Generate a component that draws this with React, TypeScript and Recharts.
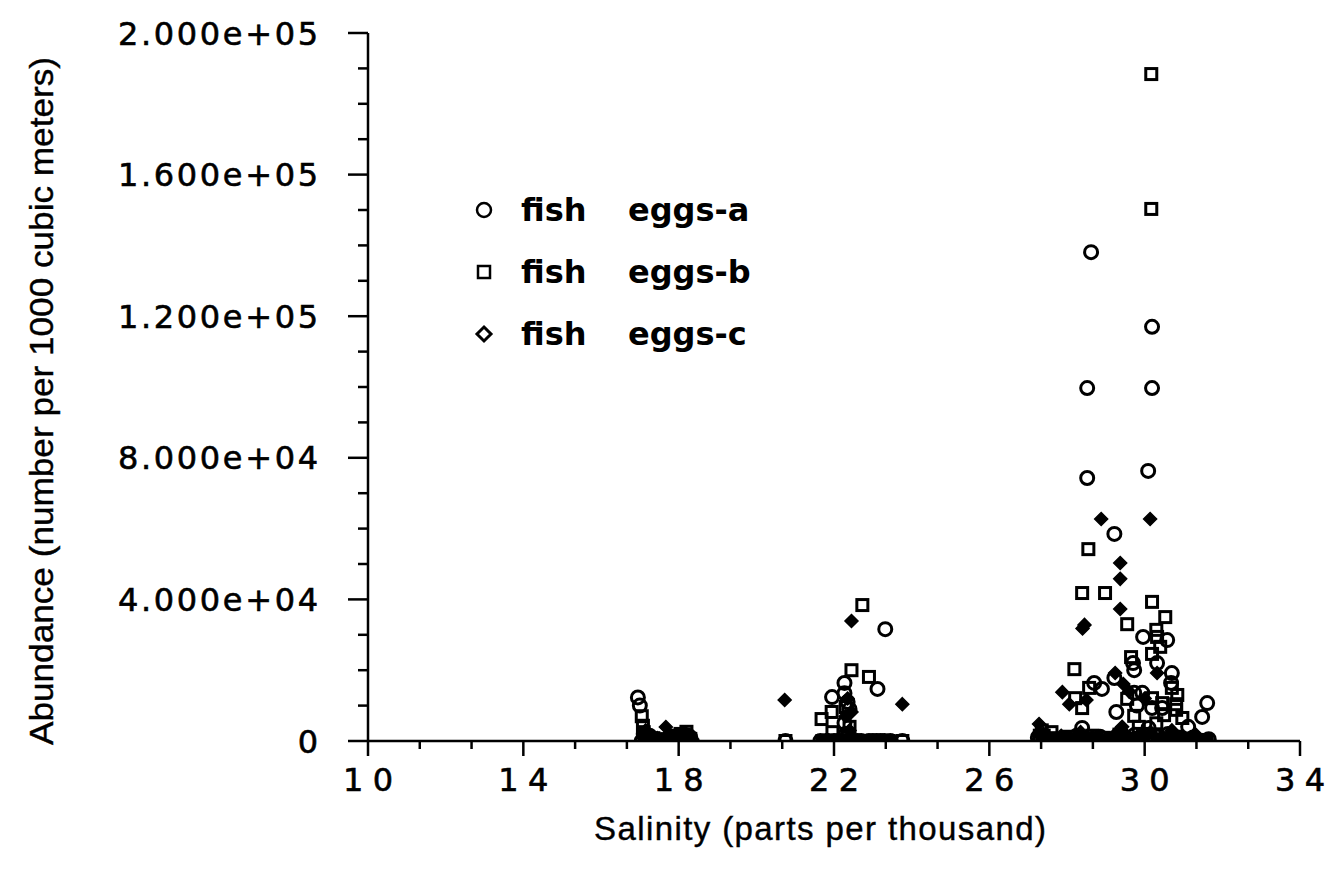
import React from 'react';
import { ScatterChart, Scatter, XAxis, YAxis, Legend, Label } from 'recharts';

// ---------- data (salinity in ppt, abundance per 1000 m^3) ----------
const salinityA = [
  16.95, 17.0, 17.1, 17.2, 17.35, 17.6, 17.9, 18.05, 18.2, 18.3, 17.05, 17.45,
  20.75, 21.95, 22.27, 22.27, 22.27, 23.32, 23.12, 22.35, 22.4, 23.76, 22.0, 22.5, 22.9, 23.2, 21.8, 22.3,
  28.62, 30.19, 28.52, 30.19, 28.52, 30.09, 29.22, 29.96, 30.58, 29.7, 29.73, 30.32, 30.7, 30.68,
  29.22, 28.7, 28.9, 29.73, 29.94, 31.61, 31.48, 29.27, 30.19, 30.45, 31.12, 28.39, 30.1, 29.8, 30.6,
  27.3, 27.5, 27.8, 28.1, 28.4, 28.7, 29.0, 29.3, 29.6, 29.9, 30.2, 30.5, 30.8, 31.1, 31.4, 31.65,
];
const abundanceA = [
  12300, 10000, 2000, 600, 300, 0, 900, 1800, 600, 1000, 0, 100,
  0, 12400, 16400, 13500, 5100, 31600, 14700, 11000, 9000, 0, 0, 0, 0, 0, 0, 2000,
  138100, 117000, 99700, 99700, 74300, 76300, 58500, 29400, 28500, 22000, 20000, 22000, 19200, 16400,
  17800, 16400, 14700, 13600, 13600, 10700, 6800, 8200, 9300, 9300, 4000, 3700, 3700, 10000, 2000,
  0, 0, 0, 0, 0, 0, 0, 0, 0, 0, 0, 0, 0, 0, 0, 500,
];
// low-abundance samples that form the dense band along the axis
const baseSalinityA = [
  17.15, 17.25, 17.4, 17.7, 17.8, 18.0, 18.15, 18.25,
  21.65, 21.85, 22.1, 22.2, 22.6, 22.7, 23.0, 23.1, 23.3, 23.45,
  27.25, 27.4, 27.65, 27.95, 28.25, 28.55, 28.85, 29.15, 29.45, 29.75, 30.05, 30.35, 30.65, 30.95, 31.25, 31.55,
];
const baseAbundanceA = [
  800, 1500, 200, 600, 1200, 300, 900, 1500,
  0, 0, 0, 0, 0, 0, 0, 0, 0, 0,
  1000, 500, 0, 800, 1500, 600, 1200, 0, 900, 1800, 600, 1400, 800, 500, 1000, 0,
];

const salinityB = [
  17.05, 17.08, 17.1, 17.2, 17.5, 18.0, 18.2, 17.3, 17.8, 18.1,
  22.73, 22.45, 22.9, 21.68, 21.94, 21.96, 22.3, 22.4, 23.76, 20.75, 21.7, 22.2, 22.6, 23.0, 23.4, 22.35,
  30.17, 30.17, 28.55, 28.39, 28.98, 30.19, 30.53, 29.55, 30.3, 30.32, 30.4, 30.19, 29.65, 30.7,
  28.19, 28.57, 28.21, 28.39, 29.55, 30.19, 30.45, 30.84, 30.81, 29.73, 30.5, 30.81, 30.97,
  27.6, 27.35, 27.4, 29.85, 30.3,
  27.45, 27.9, 28.3, 28.8, 29.2, 29.5, 29.8, 30.1, 30.4, 30.7, 31.0, 31.3, 31.6,
];
const abundanceB = [
  7000, 4300, 2500, 800, 300, 1500, 2600, 0, 0, 0,
  38400, 20000, 18100, 6200, 8200, 2500, 9600, 4000, 0, 0, 0, 0, 0, 0, 0, 1200,
  188400, 150300, 54200, 41800, 41800, 39300, 35000, 33000, 31400, 29400, 26600, 24600, 23700, 15000,
  20300, 15000, 12100, 9300, 11900, 12100, 10700, 13000, 10400, 7100, 7300, 8800, 6500,
  2500, 3000, 1500, 4000, 5000,
  0, 0, 0, 0, 0, 0, 0, 0, 0, 0, 0, 0, 0,
];
const baseSalinityB = [
  17.12, 17.35, 17.6, 17.9, 18.05, 18.3,
  21.75, 21.9, 22.05, 22.5, 22.8, 23.2, 23.35,
  27.3, 27.55, 27.75, 28.05, 28.45, 28.65, 28.95, 29.35, 29.65, 29.95, 30.25, 30.55, 30.85, 31.15, 31.45,
  28.0, 28.35, 28.75, 29.1, 29.45, 29.9, 30.35, 30.75, 31.05,
];
const baseAbundanceB = [
  1200, 800, 500, 1000, 2000, 600,
  0, 0, 0, 0, 0, 0, 0,
  1500, 800, 0, 1200, 600, 1500, 900, 1800, 700, 2000, 1500, 800, 1200, 600, 300,
  300, 200, 400, 100, 300, 200, 400, 100, 300,
];

const salinityC = [
  17.15, 17.67, 17.3, 17.5, 18.0, 18.2, 17.1, 17.8, 18.3, 17.2,
  20.73, 22.45, 23.76, 22.45, 22.35, 22.3, 22.4, 21.8, 22.1, 22.7, 23.1, 23.5,
  28.88, 30.14, 29.37, 29.37, 29.37, 28.45, 28.4, 30.32, 29.24, 29.45, 27.88, 28.06, 28.5, 29.42,
  27.28, 30.0, 29.6, 30.7, 31.3, 27.35,
  27.6, 28.0, 28.5, 28.9, 29.4, 29.7, 30.0, 30.35, 30.6, 30.9, 31.2, 31.5,
];
const abundanceC = [
  3000, 3950, 1000, 300, 600, 1200, 0, 200, 0, 1800,
  11600, 33900, 10400, 8200, 12000, 7000, 3000, 0, 0, 0, 0, 0,
  62700, 62700, 50300, 45800, 37300, 32800, 31800, 19200, 19200, 16100, 13800, 10400, 11600, 4000,
  4800, 12000, 14000, 3000, 2000, 1500,
  0, 0, 0, 0, 0, 0, 0, 0, 0, 0, 0, 0,
];
const baseSalinityC = [
  17.18, 17.28, 17.45, 17.55, 17.75, 17.95, 18.1, 18.35,
  21.7, 21.95, 22.25, 22.55, 22.85, 23.25, 23.4,
  27.4, 27.5, 27.7, 27.85, 28.2, 28.35, 28.65, 29.05, 29.25, 29.55, 29.85, 30.15, 30.45, 30.75, 31.05, 31.4, 31.6,
];
const baseAbundanceC = [
  2000, 1200, 800, 400, 1000, 1500, 2200, 500,
  0, 0, 0, 0, 0, 0, 0,
  2000, 1000, 500, 1500, 800, 2500, 1200, 600, 2000, 1500, 900, 2500, 1200, 2000, 800, 500, 0,
];

const seriesNames = ['fish', 'eggs-a', 'eggs-b', 'eggs-c'];

// ---------- axis ticks ----------
const xMajorTicks = [10, 14, 18, 22, 26, 30, 34];
const xMinorOffsets = [4 / 3, 8 / 3];
const xTicks: number[] = [];
xMajorTicks.forEach((m, i) => {
  xTicks.push(m);
  if (i < xMajorTicks.length - 1) xMinorOffsets.forEach((o) => xTicks.push(m + o));
});

const yMajorTicks = [0, 40000, 80000, 120000, 160000, 200000];
const yTickLabels = ['0', '4.000e+04', '8.000e+04', '1.200e+05', '1.600e+05', '2.000e+05'];
const yTicks = [
  0, 10000, 20000, 30000, 40000, 50000, 60000, 70000, 80000, 90000, 100000,
  110000, 120000, 130000, 140000, 150000, 160000, 170000, 180000, 190000, 200000,
];

const toPoints = (s: number[], v: number[]) => s.map((x, i) => ({ s: x, v: v[i] }));
const dataA = toPoints(salinityA, abundanceA).concat(toPoints(baseSalinityA, baseAbundanceA));
const dataB = toPoints(salinityB, abundanceB).concat(toPoints(baseSalinityB, baseAbundanceB));
const dataC = toPoints(salinityC, abundanceC).concat(toPoints(baseSalinityC, baseAbundanceC));

// ---------- layout constants ----------
const SHIFT = 40; // chart drawn 40px higher so the cut-off title sits above the page
const W = 1328;
const H = 874 + SHIFT;
const FONT = '"Liberation Sans", Arial, Helvetica, sans-serif';
const WIDE = '"DejaVu Sans", Verdana, sans-serif';

const CircleShape = (p: any) => (
  <circle cx={p.cx} cy={p.cy} r={6.5} fill="none" stroke="#000" strokeWidth={3} />
);
const SquareShape = (p: any) => (
  <rect x={p.cx - 5.5} y={p.cy - 5.5} width={11} height={11} fill="none" stroke="#000" strokeWidth={3} />
);
const DiamondShape = (p: any) => (
  <polygon
    points={`${p.cx},${p.cy - 6.5} ${p.cx + 6.5},${p.cy} ${p.cx},${p.cy + 6.5} ${p.cx - 6.5},${p.cy}`}
    fill="#000"
    stroke="#000"
    strokeWidth={1.5}
  />
);

const YTick = (props: any) => {
  const { x, y, payload } = props;
  const idx = yMajorTicks.indexOf(payload.value);
  const major = idx >= 0;
  const label = major ? yTickLabels[idx] : '';
  return (
    <g>
      <line x1={x - (major ? 20 : 10)} x2={x} y1={y} y2={y} stroke="#000" strokeWidth={2.5} />
      {major && (
        <text
          x={318}
          y={y + 11.5}
          textAnchor="end"
          fontFamily={WIDE}
          fontSize={32}
          fill="#000"
          stroke="#000"
          strokeWidth={0.6}
          {...(label.length > 1 ? { textLength: 200, lengthAdjust: 'spacing' } : {})}
        >
          {label}
        </text>
      )}
    </g>
  );
};

const XTick = (props: any) => {
  const { x, y, payload } = props;
  const major = xMajorTicks.some((m) => Math.abs(m - payload.value) < 1e-6);
  return (
    <g>
      <line x1={x} x2={x} y1={y} y2={y + (major ? 15 : 8)} stroke="#000" strokeWidth={2.5} />
      {major && (
        <text
          x={x}
          y={y + 50}
          textAnchor="middle"
          fontFamily={WIDE}
          fontSize={32}
          fill="#000"
          stroke="#000"
          strokeWidth={0.6}
          textLength={50}
          lengthAdjust="spacing"
        >
          {String(payload.value)}
        </text>
      )}
    </g>
  );
};

const legendRows = [
  { shape: 'circle', label: seriesNames[1] },
  { shape: 'square', label: seriesNames[2] },
  { shape: 'diamond', label: seriesNames[3] },
];

const LegendContent = () => (
  <svg width={320} height={180} style={{ display: 'block' }}>
    {legendRows.map((r, i) => {
      const cy = 30 + i * 62;
      const cx = 24;
      return (
        <g key={r.label}>
          {r.shape === 'circle' && (
            <circle cx={cx} cy={cy} r={7} fill="none" stroke="#000" strokeWidth={2.5} />
          )}
          {r.shape === 'square' && (
            <rect x={cx - 6} y={cy - 6} width={12} height={12} fill="none" stroke="#000" strokeWidth={2.5} />
          )}
          {r.shape === 'diamond' && (
            <polygon
              points={`${cx},${cy - 7} ${cx + 7},${cy} ${cx},${cy + 7} ${cx - 7},${cy}`}
              fill="#fff"
              stroke="#000"
              strokeWidth={3}
            />
          )}
          <text x={61} y={cy + 11} fontFamily={WIDE} fontWeight="bold" fontSize={32} fill="#000">
            {seriesNames[0]}
          </text>
          <text x={168} y={cy + 11} fontFamily={WIDE} fontWeight="bold" fontSize={32} fill="#000">
            {r.label}
          </text>
        </g>
      );
    })}
  </svg>
);

export default function App() {
  return (
    <div style={{ position: 'absolute', left: 0, top: -SHIFT, width: W, height: H, background: '#fff' }}>
      <svg width={W} height={SHIFT} style={{ position: 'absolute', left: 0, top: 0 }}>
        <text x={517} y={SHIFT - 3.5} fontFamily={FONT} fontWeight="bold" fontSize={32} fill="#000">
          Salinity vs. fish eggs
        </text>
      </svg>
      <ScatterChart
        width={W}
        height={H}
        margin={{ top: 33 + SHIFT, right: 28, bottom: 0, left: 0 }}
        style={{ background: 'transparent' }}
      >
        <XAxis
          type="number"
          dataKey="s"
          domain={[10, 34]}
          ticks={xTicks}
          interval={0}
          height={133}
          tickSize={0}
          tickMargin={0}
          tickLine={false}
          axisLine={{ stroke: '#000', strokeWidth: 2.5 }}
          tick={<XTick />}
          allowDataOverflow
        >
          <Label
            content={() => (
              <text
                x={594}
                y={840 + SHIFT}
                fontFamily={FONT}
                fontSize={33}
                fill="#000"
                stroke="#000"
                strokeWidth={0.4}
                textLength={452}
                lengthAdjust="spacing"
              >
                Salinity (parts per thousand)
              </text>
            )}
          />
        </XAxis>
        <YAxis
          type="number"
          dataKey="v"
          domain={[0, 200000]}
          ticks={yTicks}
          interval={0}
          width={368}
          tickSize={0}
          tickMargin={0}
          tickLine={false}
          axisLine={{ stroke: '#000', strokeWidth: 2.5 }}
          tick={<YTick />}
          allowDataOverflow
        >
          <Label
            content={() => (
              <text
                x={53}
                y={401 + SHIFT}
                transform={`rotate(-90 53 ${401 + SHIFT})`}
                textAnchor="middle"
                fontFamily={FONT}
                fontSize={34}
                fill="#000"
                stroke="#000"
                strokeWidth={0.4}
                textLength={688}
                lengthAdjust="spacingAndGlyphs"
              >
                Abundance (number per 1000 cubic meters)
              </text>
            )}
          />
        </YAxis>
        <Legend
          layout="vertical"
          align="center"
          verticalAlign="middle"
          content={<LegendContent />}
          wrapperStyle={{ position: 'absolute', left: 460, top: 180 + SHIFT, width: 320, height: 180 }}
        />
        <Scatter name="fish eggs-a" data={dataA} shape={CircleShape} isAnimationActive={false} />
        <Scatter name="fish eggs-b" data={dataB} shape={SquareShape} isAnimationActive={false} />
        <Scatter name="fish eggs-c" data={dataC} shape={DiamondShape} isAnimationActive={false} />
      </ScatterChart>
    </div>
  );
}
